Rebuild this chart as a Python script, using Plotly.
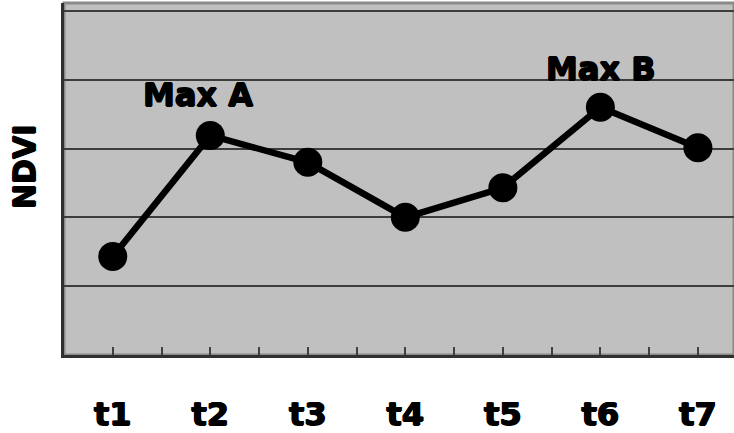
import plotly.graph_objects as go

# NDVI over seven observation dates
periods = ["t1", "t2", "t3", "t4", "t5", "t6", "t7"]
ndvi = [0.286, 0.638, 0.56, 0.40, 0.486, 0.72, 0.602]
peak_labels = {1: "Max A", 5: "Max B"}

xpos = list(range(len(periods)))
# heavy bold lettering: bold face thickened with a tight text shadow
heavy = "0.8px 0 0 black, -0.8px 0 0 black, 0 0.6px 0 black, 0 -0.6px 0 black"
bold = dict(family="DejaVu Sans", color="black", weight="bold", shadow=heavy)

fig = go.Figure()
fig.add_trace(go.Scatter(
    x=xpos, y=ndvi, mode="lines+markers",
    line=dict(color="black", width=6.5),
    marker=dict(color="black", size=29),
    hoverinfo="skip",
))

# peak captions above the two maxima
shifts = {1: (-12, 40), 5: (1, 38.5)}
for idx, label in peak_labels.items():
    dx, dy = shifts[idx]
    fig.add_annotation(
        x=xpos[idx], y=ndvi[idx], text=label, showarrow=False,
        xshift=dx, yshift=dy, yanchor="middle",
        font=dict(size=32, **bold),
    )

# rotated axis title
fig.add_annotation(
    xref="paper", yref="paper", x=-0.0597, y=0.534, text="NDVI",
    textangle=-90, showarrow=False, xanchor="center", yanchor="middle",
    font=dict(size=30, **bold),
)

# outer grey frame of the plotting area
fig.add_shape(
    type="rect", xref="paper", yref="paper", x0=0, x1=1, y0=0, y1=1,
    line=dict(color="#8a8a8a", width=3), fillcolor="rgba(0,0,0,0)", layer="below",
)

fig.update_layout(
    width=734, height=433,
    margin=dict(l=64, r=0, t=3, b=78),
    paper_bgcolor="white", plot_bgcolor="#c0c0c0",
    showlegend=False,
)
fig.update_xaxes(
    range=[-0.5, 6.37], tickmode="array", tickvals=xpos, ticktext=periods,
    ticks="inside", ticklen=8, tickwidth=1.5, tickcolor="#404040",
    minor=dict(ticks="inside", ticklen=8, tickwidth=1.5, tickcolor="#404040",
               tick0=0.5, dtick=1),
    showgrid=False, zeroline=False, automargin=False,
    showline=True, linecolor="#303030", linewidth=2.5,
    tickfont=dict(size=32, **bold), ticklabelstandoff=29,
)
fig.update_yaxes(
    range=[0, 1.023], tickmode="array", tickvals=[0.2, 0.4, 0.6, 0.8, 1.0],
    showticklabels=False, ticks="", automargin=False,
    showgrid=True, gridcolor="#3c3c3c", gridwidth=1.5,
    zeroline=False, showline=True, linecolor="#303030", linewidth=2.5,
)

fig.write_html("out.html")
